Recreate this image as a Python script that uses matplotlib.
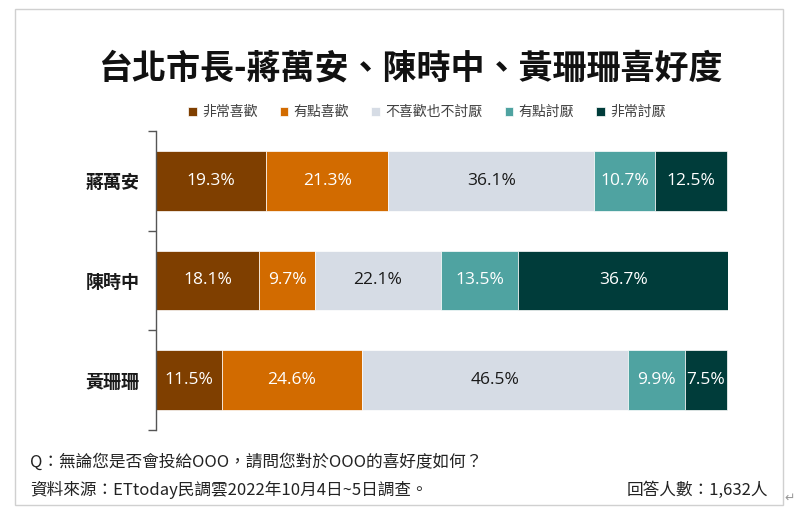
import matplotlib
matplotlib.use("Agg")
import matplotlib.pyplot as plt
from matplotlib.patches import Rectangle
import numpy as np

plt.rcParams['font.family'] = ['Noto Sans CJK TC', 'DejaVu Sans']

candidates = ['蔣萬安', '陳時中', '黃珊珊']
series = ['非常喜歡', '有點喜歡', '不喜歡也不討厭', '有點討厭', '非常討厭']
very_like = [19.3, 18.1, 11.5]
some_like = [21.3, 9.7, 24.6]
neutral = [36.1, 22.1, 46.5]
some_dislike = [10.7, 13.5, 9.9]
very_dislike = [12.5, 36.7, 7.5]
values = [very_like, some_like, neutral, some_dislike, very_dislike]
colors = ['#7F3F00', '#D26B00', '#D6DCE5', '#4FA3A1', '#003C3A']
label_colors = ['white', 'white', '#1a1a1a', 'white', 'white']

W, H = 800, 509
fig = plt.figure(figsize=(W / 100, H / 100), dpi=100)

# outer frame
fig.patches.append(Rectangle((15 / W, 1 - 505 / H), (783 - 15) / W, (505 - 9) / H,
                             transform=fig.transFigure, fill=False,
                             edgecolor='#D0D0D0', linewidth=1.0))

ax = fig.add_axes([156 / W, 1 - 430 / H, (728 - 156) / W, (430 - 131) / H])

y = np.arange(len(candidates))
left = np.zeros(len(candidates))
for vals, col, lc, name in zip(values, colors, label_colors, series):
    vals = np.array(vals)
    ax.barh(y, vals, left=left, height=0.6, color=col, edgecolor='white',
            linewidth=0.5, label=name)
    for yi, v, l in zip(y, vals, left):
        ax.text(l + v / 2, yi, f'{v:.1f}%', ha='center', va='center',
                color=lc, fontsize=12.5, family=['Open Sans', 'DejaVu Sans'])
    left += vals

total = float(np.max(left))
ax.set_xlim(0, total)
ax.set_ylim(2.5, -0.5)
ax.set_yticks(y)
ax.set_yticklabels(candidates, fontsize=13, fontweight='bold', color='#1a1a1a')
ax.tick_params(axis='y', which='major', length=0, pad=12)
ax.set_yticks([-0.5, 0.5, 1.5, 2.5], minor=True)
ax.tick_params(axis='y', which='minor', length=6, width=1, color='#555555')
ax.set_xticks([])
for s in ['top', 'right', 'bottom']:
    ax.spines[s].set_visible(False)
ax.spines['left'].set_color('#555555')
ax.spines['left'].set_linewidth(1)

fig.text(411 / W, 1 - 68 / H, '台北市長-蔣萬安、陳時中、黃珊珊喜好度', ha='center', va='center',
         fontsize=24.5, fontweight='bold', color='#111111')

leg = fig.legend(loc='center', bbox_to_anchor=(427 / W, 1 - 112 / H), ncol=5,
                 frameon=False, fontsize=10, handlelength=0.6, handleheight=0.6,
                 handletextpad=0.4, columnspacing=1.6)
for t in leg.get_texts():
    t.set_color('#404040')

fig.text(30 / W, 1 - 462 / H, 'Q：無論您是否會投給OOO，請問您對於OOO的喜好度如何？',
         ha='left', va='center', fontsize=12, color='#222222')
fig.text(30 / W, 1 - 490 / H, '資料來源：ETtoday民調雲2022年10月4日~5日調查。',
         ha='left', va='center', fontsize=12, color='#222222')
fig.text(768 / W, 1 - 490 / H, '回答人數：1,632人',
         ha='right', va='center', fontsize=12, color='#222222')
fig.text(790 / W, 1 - 498 / H, '↵', ha='center', va='center', fontsize=9,
         color='#999999', family=['DejaVu Sans'])

fig.savefig('out.png', dpi=100, facecolor='white')
